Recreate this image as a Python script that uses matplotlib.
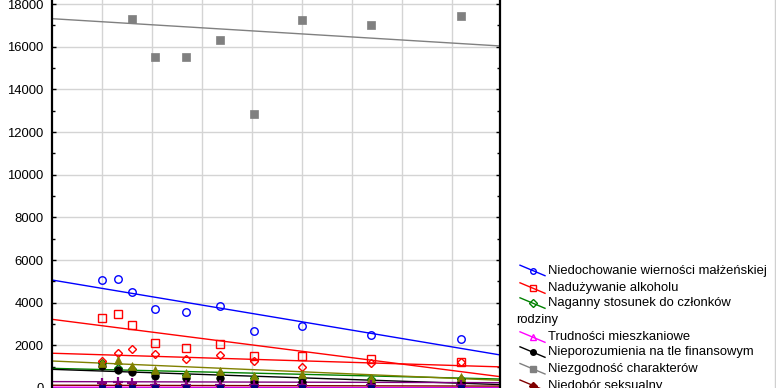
import numpy as np
import matplotlib
matplotlib.use("Agg")
import matplotlib.pyplot as plt
from matplotlib.ticker import MultipleLocator, NullFormatter

plt.rcParams['font.family'] = ['Liberation Sans', 'DejaVu Sans']

# ---- data ----
x_pos = [1.0, 1.32, 1.6, 2.06, 2.68, 3.36, 4.04, 5.0, 6.38, 8.18]
nan = np.nan
niedochowanie = [5063, 5110, 4515, 3704, 3563, 3844, 2672, 2921, 2500, 2311]
alkohol = [3296, 3483, 2968, 2110, 1890, 2063, 1486, 1500, 1345, 1233]
naganny = [1150, 950, 880, 720, 620, 640, 480, 470, 420, 440]
mieszkaniowe = [40, 40, 40, 30, 30, 30, 30, 30, 30, 30]
finansowe = [1031, 844, 766, 563, 453, 453, 297, 297, 250, 297]
charaktery = [nan, nan, 17313, 15532, 15504, 16301, 12832, 17237, 17003, 17425]
seksualny = [120, 160, 150, 110, 100, 100, 90, 90, 90, 90]
inne_romb = [1281, 1641, 1828, 1594, 1344, 1563, 1281, 1000, 1156, 1203]
inne_trojkat = [1150, 1313, 1047, 844, 719, 812, 563, 641, 453, 531]
inne_plus = [250, 297, 219, 160, 150, 150, 130, 150, 150, 150]
inne_kwadrat = [10, 10, 10, 10, 10, 10, 10, 10, 10, 10]

# trend-line values at the left and right edge of the plot
trend_left = [5063, 3220, 922, 40, 875, 17314, 130, 1630, 1266, 300, 5]
trend_right = [1547, 530, 420, 20, 160, 16034, 90, 990, 360, 250, 5]

labels = ["Niedochowanie wierności małżeńskiej", "Nadużywanie alkoholu",
          "Naganny stosunek do członków\nrodziny", "Trudności mieszkaniowe",
          "Nieporozumienia na tle finansowym", "Niezgodność charakterów",
          "Niedobór seksualny"]

series = [niedochowanie, alkohol, naganny, mieszkaniowe, finansowe, charaktery,
          seksualny, inne_romb, inne_trojkat, inne_plus, inne_kwadrat]
colors = ["#0000ff", "#ff0000", "#008000", "#ff00ff", "#000000", "#808080",
          "#800000", "#ff0000", "#808000", "#800080", "#000080"]
markers = ["o", "s", "D", "^", "o", "s", "D", "D", "^", "+", "s"]
filled = [False, False, False, False, True, True, True, False, True, True, True]
msizes = [5.4, 5.4, 4.2, 5.0, 5.4, 6.4, 4.5, 4.2, 6.0, 7.0, 5.0]

W, H = 776, 388
fig = plt.figure(figsize=(W / 100, H / 100), dpi=100)

ymin, ymax = -600, 18400
scale = 0.02133  # px per unit
y0px = 388.0
top_px = y0px - scale * ymax
bot_px = y0px - scale * ymin
left_px, right_px = 52, 500.5
ax = fig.add_axes([left_px / W, (H - bot_px) / H, (right_px - left_px) / W,
                   (bot_px - top_px) / H])
xmax = (right_px - left_px) / 50.0
ax.set_xlim(0, xmax)
ax.set_ylim(ymin, ymax)

ax.set_xticks(np.arange(1, 9))
ax.xaxis.set_major_formatter(NullFormatter())
ax.yaxis.set_major_locator(MultipleLocator(2000))
ax.yaxis.set_minor_locator(MultipleLocator(1000))
ax.grid(True, which='major', color='#d4d4d4', linewidth=1.0)
ax.set_axisbelow(True)
for s in ['left', 'right']:
    ax.spines[s].set_linewidth(1.6)
ax.spines['top'].set_visible(False)
ax.tick_params(axis='y', which='both', direction='in', left=True, right=True,
               labelsize=9.4, pad=6, length=3, width=1, colors='black')
ax.tick_params(axis='y', which='minor', length=2)
ax.tick_params(axis='x', direction='in', length=3)

for i, (vals, c, m, f, ms) in enumerate(zip(series, colors, markers, filled, msizes)):
    ax.plot([0, xmax], [trend_left[i], trend_right[i]], color=c, lw=1.0, zorder=2)
for i, (vals, c, m, f, ms) in enumerate(zip(series, colors, markers, filled, msizes)):
    ax.plot(x_pos, vals, linestyle='none', marker=m, markersize=ms,
            markerfacecolor=(c if f else 'none'), markeredgecolor=c,
            markeredgewidth=(1.0 if not f else (1.6 if m == '+' else 0.5)), zorder=3)

# ---- legend drawn in figure-pixel coordinates ----
lg = fig.add_axes([0, 0, 1, 1], facecolor='none')
lg.set_xlim(0, W)
lg.set_ylim(H, 0)
lg.axis('off')
row_y = [270.7, 288.3, 303.3, 337.3, 352.3, 369.0, 385.5]
leg_ms = [4.0, 4.0, 3.6, 4.4, 4.0, 5.0, 4.4]
for i, (lab, yy) in enumerate(zip(labels, row_y)):
    c = colors[i]
    lg.plot([520, 545], [yy - 5.5, yy + 5], color=c, lw=1.0, clip_on=False)
    lg.plot([532.5], [yy], marker=markers[i], markersize=leg_ms[i],
            markerfacecolor=(c if filled[i] else 'none'), markeredgecolor=c,
            markeredgewidth=1.0, clip_on=False)
    if "\n" in lab:
        first, second = lab.split("\n")
        lg.text(547.5, yy, first, fontsize=9.4, va='center', ha='left')
        lg.text(516.5, 320.0, second, fontsize=9.4, va='center', ha='left')
    else:
        lg.text(547.5, yy, lab, fontsize=9.4, va='center', ha='left')
lg.plot([774.5, 774.5], [0, H], color='#d0d0d0', lw=1.0)

fig.savefig("out.png", dpi=100)
